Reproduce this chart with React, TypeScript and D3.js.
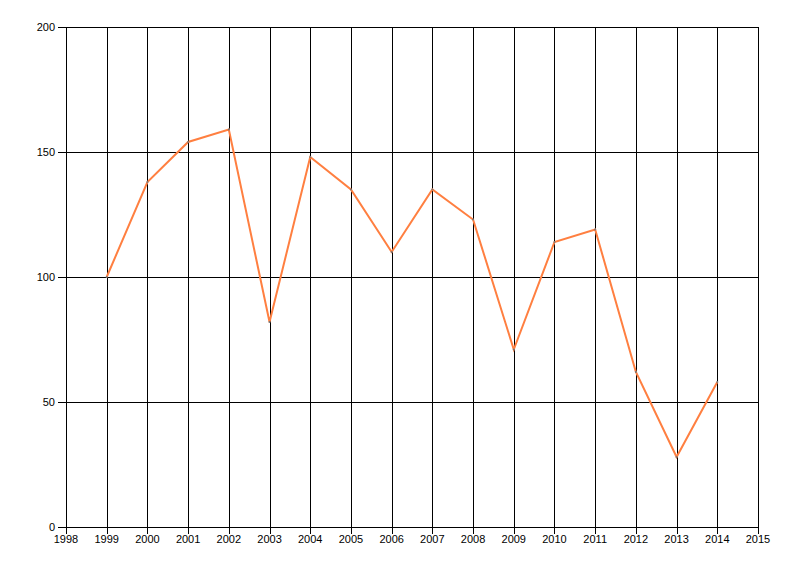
import React, { useEffect, useRef } from 'react';
import * as d3 from 'd3';

const years = [1999, 2000, 2001, 2002, 2003, 2004, 2005, 2006, 2007, 2008, 2009, 2010, 2011, 2012, 2013, 2014];
const values = [100, 138, 154, 159, 82, 148, 135, 110, 135, 123, 71, 114, 119, 62, 28, 58];
const xTicks = d3.range(1998, 2016);
const yTicks = [0, 50, 100, 150, 200];

// Line chart of yearly values on a full black grid
const App: React.FC = () => {
  const svgRef = useRef<SVGSVGElement>(null);

  useEffect(() => {
    if (!svgRef.current) return;
    d3.select(svgRef.current).selectAll('*').remove();

    const left = 66, right = 758, top = 27, bottom = 527;
    const tick = 7;

    const svg = d3.select(svgRef.current)
      .attr('width', 800)
      .attr('height', 576);

    svg.append('rect').attr('width', 800).attr('height', 576).attr('fill', '#fff');

    const xScale = d3.scaleLinear().domain([1998, 2015]).range([left, right]);
    const yScale = d3.scaleLinear().domain([0, 200]).range([bottom, top]);

    const font = '"Liberation Sans", Arial, sans-serif';

    // Vertical grid lines (with small tick below the axis)
    svg.append('g')
      .selectAll('line')
      .data(xTicks)
      .enter()
      .append('line')
      .attr('x1', d => Math.round(xScale(d)) + 0.5)
      .attr('x2', d => Math.round(xScale(d)) + 0.5)
      .attr('y1', top)
      .attr('y2', bottom + tick)
      .attr('stroke', '#000')
      .attr('stroke-width', 1);

    // Horizontal grid lines (with small tick left of the axis)
    svg.append('g')
      .selectAll('line')
      .data(yTicks)
      .enter()
      .append('line')
      .attr('x1', left - tick - 1)
      .attr('x2', right)
      .attr('y1', d => Math.round(yScale(d)) + 0.5)
      .attr('y2', d => Math.round(yScale(d)) + 0.5)
      .attr('stroke', '#000')
      .attr('stroke-width', 1);

    // Tick labels
    svg.append('g')
      .selectAll('text')
      .data(xTicks)
      .enter()
      .append('text')
      .attr('x', d => xScale(d))
      .attr('y', bottom + 16)
      .attr('text-anchor', 'middle')
      .style('font-family', font)
      .style('font-size', '11px')
      .style('fill', '#000')
      .text(d => d);

    svg.append('g')
      .selectAll('text')
      .data(yTicks)
      .enter()
      .append('text')
      .attr('x', left - 11)
      .attr('y', d => yScale(d) + 4)
      .attr('text-anchor', 'end')
      .style('font-family', font)
      .style('font-size', '11px')
      .style('fill', '#000')
      .text(d => d);

    // Data line
    const line = d3.line<number>()
      .x((_, i) => xScale(years[i]))
      .y(d => yScale(d));

    svg.append('path')
      .datum(values)
      .attr('d', line)
      .attr('fill', 'none')
      .attr('stroke', '#FF7F40')
      .attr('stroke-width', 2)
      .attr('stroke-linejoin', 'miter');

    // Small point markers
    svg.append('g')
      .selectAll('circle')
      .data(values)
      .enter()
      .append('circle')
      .attr('cx', (_, i) => xScale(years[i]))
      .attr('cy', d => yScale(d))
      .attr('r', 1)
      .attr('fill', '#777');
  }, []);

  return <svg ref={svgRef} style={{ position: 'absolute', left: 0, top: 0 }}></svg>;
};

export default App;
